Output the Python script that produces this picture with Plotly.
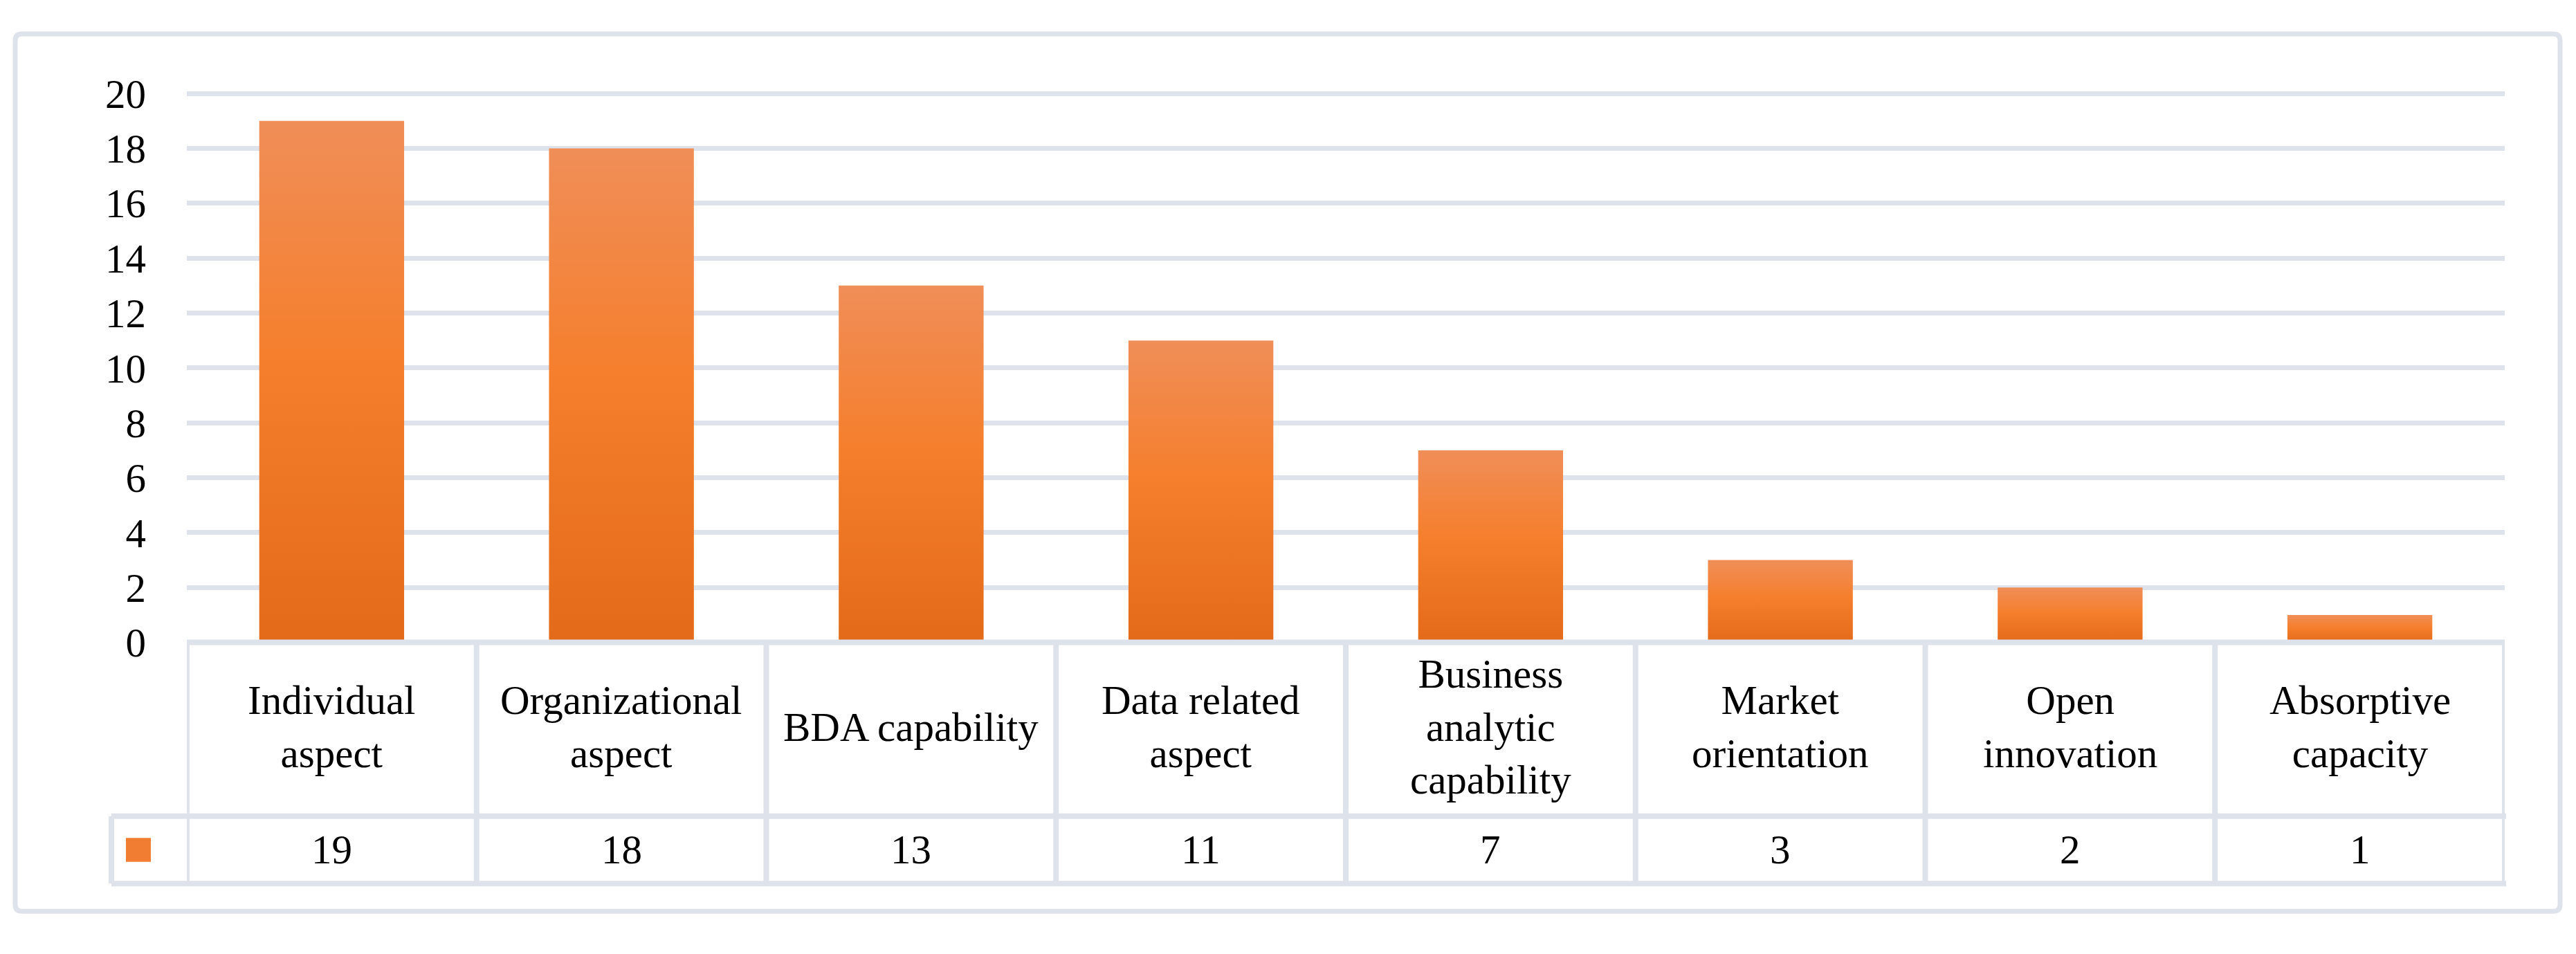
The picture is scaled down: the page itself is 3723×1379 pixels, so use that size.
import plotly.graph_objects as go

# data
categories = ["Individual aspect", "Organizational aspect", "BDA capability", "Data related aspect",
              "Business analytic capability", "Market orientation", "Open innovation", "Absorptive capacity"]
header_labels = ["Individual<br>aspect", "Organizational<br>aspect", "BDA capability", "Data related<br>aspect",
                 "Business<br>analytic<br>capability", "Market<br>orientation", "Open<br>innovation",
                 "Absorptive<br>capacity"]
counts = [19, 18, 13, 11, 7, 3, 2, 1]
y_ticks = [0, 2, 4, 6, 8, 10, 12, 14, 16, 18, 20]

W, H = 3723, 1379
FONT = "Liberation Serif"
LINE = "#dee2ea"
BAR_GRADIENT = [[0, "#e36a18"], [0.55, "#f57f2d"], [1, "#f08e58"]]
HALF_WIDTH = 0.25


def px(x):
    return x / W


def py(y):
    return 1 - y / H


fig = go.Figure()
# Excel-style bars with a vertical gradient: one filled trace per category
for i, (name, v) in enumerate(zip(categories, counts)):
    fig.add_trace(go.Scatter(
        x=[i - HALF_WIDTH, i - HALF_WIDTH, i + HALF_WIDTH, i + HALF_WIDTH, i - HALF_WIDTH],
        y=[0, v, v, 0, 0],
        mode="lines", line=dict(width=0), fill="toself",
        fillgradient=dict(type="vertical", colorscale=BAR_GRADIENT),
        name=name, hoverinfo="skip",
    ))

shapes = []
# outer chart frame with small rounded corners
rx, ry = 10 / W, 10 / H
x0, x1, y0, y1 = px(22), px(3700), py(1350), py(22)
frame = (f"M {x0 + rx},{y1} L {x1 - rx},{y1} Q {x1},{y1} {x1},{y1 - ry} "
         f"L {x1},{y0 + ry} Q {x1},{y0} {x1 - rx},{y0} L {x0 + rx},{y0} Q {x0},{y0} {x0},{y0 + ry} "
         f"L {x0},{y1 - ry} Q {x0},{y1} {x0 + rx},{y1} Z")
shapes.append(dict(type="path", xref="paper", yref="paper", path=frame,
                   line=dict(color=LINE, width=7), layer="below"))
# data table lines
shapes.append(dict(type="line", xref="x", yref="paper", x0=-0.5, x1=len(categories) - 0.5,
                   y0=py(943), y1=py(943), line=dict(color=LINE, width=8)))
for yy in (1206, 1308):
    shapes.append(dict(type="line", xref="paper", yref="paper", x0=px(161), x1=px(3622),
                       y0=py(yy), y1=py(yy), line=dict(color=LINE, width=8)))
shapes.append(dict(type="line", xref="paper", yref="paper", x0=px(161), x1=px(161),
                   y0=py(1206), y1=py(1308), line=dict(color=LINE, width=8)))
for k in range(len(categories) + 1):
    shapes.append(dict(type="line", xref="x", yref="paper", x0=k - 0.5, x1=k - 0.5,
                       y0=py(943), y1=py(1308), line=dict(color=LINE, width=8)))
# legend key
shapes.append(dict(type="rect", xref="paper", yref="paper", x0=px(182), x1=px(218), y0=py(1275), y1=py(1239),
                   fillcolor="#f07d31", line=dict(width=0)))

annotations = []
for i, (lab, v) in enumerate(zip(header_labels, counts)):
    annotations.append(dict(x=i, xref="x", y=py(1071), yref="paper", text=lab, showarrow=False,
                            xanchor="center", yanchor="middle", align="center",
                            font=dict(family=FONT, size=59, color="#000")))
    annotations.append(dict(x=i, xref="x", y=py(1257), yref="paper", text=str(v), showarrow=False,
                            xanchor="center", yanchor="middle",
                            font=dict(family=FONT, size=59, color="#000")))

fig.update_layout(
    width=W, height=H,
    margin=dict(l=0, r=0, t=0, b=0),
    paper_bgcolor="white", plot_bgcolor="white",
    showlegend=False,
    shapes=shapes,
    annotations=annotations,
    font=dict(family=FONT, size=59, color="#000"),
)
fig.update_xaxes(domain=[px(270), px(3620)], range=[-0.5, len(categories) - 0.5],
                 showticklabels=False, showgrid=False, zeroline=False, showline=False)
fig.update_yaxes(domain=[py(943), py(108)], range=[0, 20.1], tickvals=y_ticks,
                 showgrid=True, gridcolor=LINE, gridwidth=7, zeroline=False, showline=False,
                 ticklabelstandoff=58, tickfont=dict(family=FONT, size=59, color="#000"))

fig.write_html("out.html", config={"displayModeBar": False},
               post_script="document.body.style.margin='0';")
